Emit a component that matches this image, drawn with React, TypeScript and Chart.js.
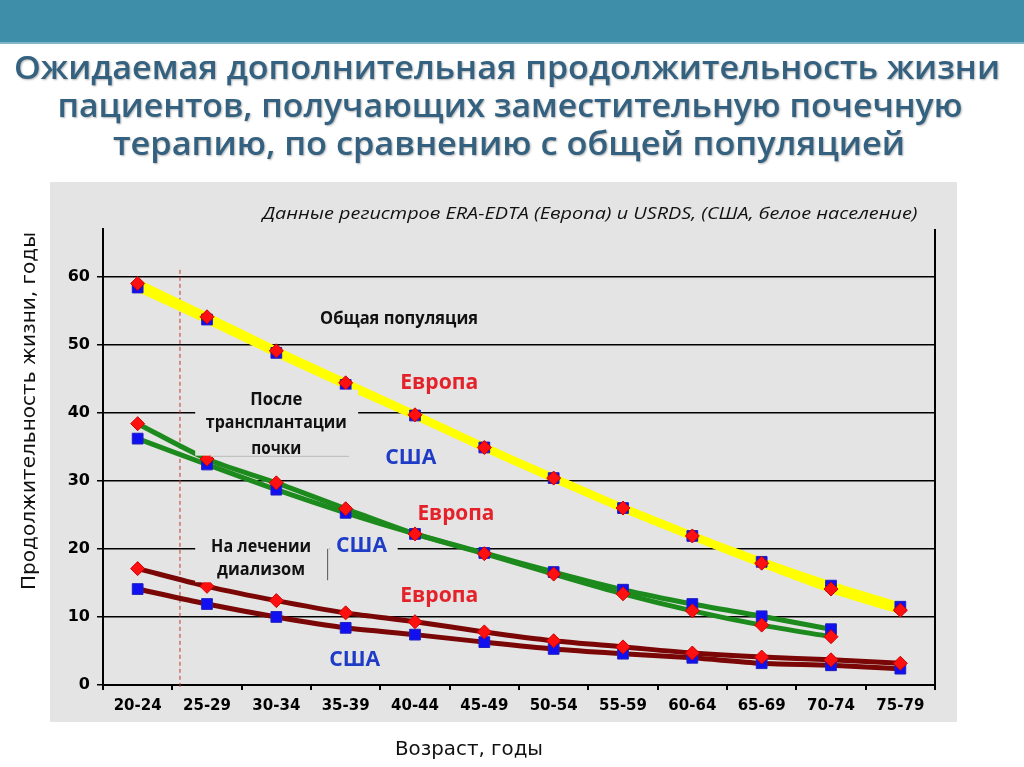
import React, { useEffect, useRef } from 'react';
import { Chart, registerables } from 'chart.js';

Chart.register(...registerables);

const ageGroups = ['20-24', '25-29', '30-34', '35-39', '40-44', '45-49', '50-54', '55-59', '60-64', '65-69', '70-74', '75-79'];
const generalEurope = [59.0, 54.1, 49.1, 44.4, 39.7, 34.9, 30.4, 26.0, 21.9, 17.9, 14.1, 11.0];
const generalUSA = [58.4, 53.7, 48.8, 44.1, 39.6, 34.9, 30.4, 26.0, 21.9, 18.1, 14.6, 11.5];
const transplantEurope = [38.4, 33.2, 29.7, 25.9, 22.2, 19.3, 16.3, 13.4, 10.9, 8.8, 7.1, null];
const transplantUSA = [36.2, 32.4, 28.7, 25.3, 22.2, 19.4, 16.6, 14.0, 11.9, 10.1, 8.2, null];
const dialysisEurope = [17.1, 14.5, 12.4, 10.6, 9.3, 7.8, 6.5, 5.6, 4.7, 4.1, 3.7, 3.2];
const dialysisUSA = [14.1, 11.9, 10.0, 8.4, 7.4, 6.3, 5.3, 4.6, 4.0, 3.2, 2.9, 2.4];
const yTickValues = [0, 10, 20, 30, 40, 50, 60];

const titleLines = [
  'Ожидаемая дополнительная продолжительность жизни',
  'пациентов, получающих заместительную почечную',
  'терапию, по сравнению с общей популяцией',
];
const subtitle = 'Данные регистров ERA-EDTA (Европа) и USRDS, (США, белое население)';
const yAxisTitle = 'Продолжительность жизни, годы';
const xAxisTitle = 'Возраст, годы';

const RED = '#e3222a';
const BLUE = '#1f3cc6';
const PANEL = '#e4e4e4';
const SANS = '"Open Sans", "Noto Sans", sans-serif';

// annotations placed in data coordinates (category index, value)
const annotations = [
  { text: 'Общая популяция', x: 3.77, y: 53.7, w: 158, kind: 'black' },
  { text: 'Европа', x: 4.35, y: 44.3, w: 78, kind: 'red' },
  { text: 'После', x: 2.0, y: 41.9, w: 52, kind: 'black' },
  { text: 'трансплантации', x: 2.0, y: 38.4, w: 141, kind: 'black' },
  { text: 'почки', x: 2.0, y: 34.7, w: 50, kind: 'black' },
  { text: 'США', x: 3.94, y: 33.4, w: 51, kind: 'blue' },
  { text: 'Европа', x: 4.59, y: 25.1, w: 77, kind: 'red' },
  { text: 'На лечении', x: 1.78, y: 20.3, w: 100, kind: 'black' },
  { text: 'диализом', x: 1.78, y: 16.9, w: 88, kind: 'black' },
  { text: 'США', x: 3.23, y: 20.4, w: 51, kind: 'blue' },
  { text: 'Европа', x: 4.35, y: 13.1, w: 78, kind: 'red' },
  { text: 'США', x: 3.13, y: 3.7, w: 51, kind: 'blue' },
];
const coverBoxes = [
  { x0: 0.83, x1: 3.18, y0: 43.4, y1: 33.7 },
  { x0: 0.83, x1: 2.77, y0: 22.5, y1: 15.1 },
  { x0: 2.77, x1: 3.75, y0: 21.6, y1: 19.0 },
];

function fitText(ctx: CanvasRenderingContext2D, text: string, cx: number, cy: number, width: number, font: string, color: string, rotate = 0) {
  ctx.save();
  ctx.font = font;
  ctx.fillStyle = color;
  ctx.textAlign = 'center';
  ctx.textBaseline = 'middle';
  const w = ctx.measureText(text).width;
  ctx.translate(cx, cy);
  if (rotate) ctx.rotate(rotate);
  ctx.scale(width / w, 1);
  ctx.fillText(text, 0, 0);
  ctx.restore();
}

const slidePlugin = {
  id: 'slide',
  beforeDraw(chart: any) {
    const ctx: CanvasRenderingContext2D = chart.ctx;
    ctx.save();
    ctx.fillStyle = '#ffffff';
    ctx.fillRect(0, 0, chart.width, chart.height);
    ctx.fillStyle = '#3f8ea9';
    ctx.fillRect(0, 0, chart.width, 42);
    ctx.fillStyle = '#7fb6c8';
    ctx.fillRect(0, 42, chart.width, 2);
    ctx.fillStyle = PANEL;
    ctx.fillRect(50, 182, 907, 540);
    ctx.restore();

    ctx.save();
    ctx.shadowColor = 'rgba(0,0,0,0.3)';
    ctx.shadowOffsetX = 1;
    ctx.shadowOffsetY = 1;
    ctx.shadowBlur = 2;
    const centers = [[507, 70, 986], [510, 108, 905], [509, 146, 792]];
    titleLines.forEach((t, i) => {
      fitText(ctx, t, centers[i][0], centers[i][1], centers[i][2], `600 33px ${SANS}`, '#33617f');
    });
    ctx.restore();

    fitText(ctx, subtitle, 590, 214, 655, `italic 17px ${SANS}`, '#111111');
    fitText(ctx, yAxisTitle, 30, 411, 358, '19px "DejaVu Sans"', '#111111', -Math.PI / 2);
    fitText(ctx, xAxisTitle, 469, 750, 148, '19px "DejaVu Sans"', '#111111');
  },
  beforeDatasetsDraw(chart: any) {
    const ctx: CanvasRenderingContext2D = chart.ctx;
    const { chartArea } = chart;
    const xs = chart.scales.x;
    const ys = chart.scales.y;
    ctx.save();
    ctx.strokeStyle = '#000';
    ctx.lineWidth = 2;
    ctx.beginPath();
    ctx.moveTo(chartArea.right, chartArea.top);
    ctx.lineTo(chartArea.right, chartArea.bottom);
    ctx.stroke();
    const dx = xs.getPixelForValue(0.61);
    ctx.strokeStyle = '#c0392b';
    ctx.lineWidth = 1;
    ctx.setLineDash([4, 3]);
    ctx.beginPath();
    ctx.moveTo(dx, ys.getPixelForValue(61));
    ctx.lineTo(dx, chartArea.bottom + 5);
    ctx.stroke();
    ctx.restore();
  },
  afterDatasetsDraw(chart: any) {
    const ctx: CanvasRenderingContext2D = chart.ctx;
    const xs = chart.scales.x;
    const ys = chart.scales.y;
    ctx.save();
    ctx.fillStyle = PANEL;
    coverBoxes.forEach((b) => {
      const x0 = xs.getPixelForValue(b.x0);
      const x1 = xs.getPixelForValue(b.x1);
      const y0 = ys.getPixelForValue(b.y0);
      const y1 = ys.getPixelForValue(b.y1);
      ctx.fillRect(x0, y0, x1 - x0, y1 - y0);
    });
    // thin edge line next to the dialysis label
    ctx.strokeStyle = '#555';
    ctx.lineWidth = 1;
    const ex = xs.getPixelForValue(2.74);
    ctx.beginPath();
    ctx.moveTo(ex, ys.getPixelForValue(20));
    ctx.lineTo(ex, ys.getPixelForValue(15.4));
    ctx.stroke();
    ctx.strokeStyle = '#bbb';
    ctx.beginPath();
    ctx.moveTo(xs.getPixelForValue(1.05), ys.getPixelForValue(33.6));
    ctx.lineTo(xs.getPixelForValue(3.05), ys.getPixelForValue(33.6));
    ctx.stroke();
    ctx.restore();
    annotations.forEach((a) => {
      const cx = xs.getPixelForValue(a.x);
      const cy = ys.getPixelForValue(a.y);
      if (a.kind === 'black') fitText(ctx, a.text, cx, cy, a.w, `bold 17px ${SANS}`, '#111111');
      else fitText(ctx, a.text, cx, cy, a.w, `bold 21px ${SANS}`, a.kind === 'red' ? RED : BLUE);
    });
  },
};

function lineSet(data: (number | null)[], color: string, width: number) {
  return {
    data,
    borderColor: color,
    backgroundColor: color,
    borderWidth: width,
    pointRadius: 0,
    tension: 0.3,
    fill: false,
    order: 3,
  };
}
function pointSet(data: (number | null)[], europe: boolean) {
  return {
    data,
    showLine: false,
    pointStyle: europe ? 'rectRot' : 'rect',
    pointRadius: europe ? 7 : 7.6,
    pointBackgroundColor: europe ? '#ff1010' : '#1010f0',
    pointBorderColor: europe ? '#d00000' : '#2020c0',
    pointBorderWidth: 1,
    order: europe ? 1 : 2,
  };
}

export default function App() {
  const ref = useRef<HTMLCanvasElement | null>(null);
  useEffect(() => {
    if (!ref.current) return;
    const chart = new Chart(ref.current, {
      type: 'line',
      data: {
        labels: ageGroups,
        datasets: [
          lineSet(generalEurope, '#ffff00', 8),
          lineSet(generalUSA, '#ffff00', 8),
          lineSet(transplantEurope, '#1c8a1c', 5),
          lineSet(transplantUSA, '#1c8a1c', 5),
          lineSet(dialysisEurope, '#7a0606', 5),
          lineSet(dialysisUSA, '#7a0606', 5),
          pointSet(generalUSA, false),
          pointSet(transplantUSA, false),
          pointSet(dialysisUSA, false),
          pointSet(generalEurope, true),
          pointSet(transplantEurope, true),
          pointSet(dialysisEurope, true),
        ] as any,
      },
      options: {
        responsive: false,
        animation: false,
        events: [],
        layout: { padding: { left: 43, right: 89, top: 229, bottom: 45 } },
        plugins: { legend: { display: false }, tooltip: { enabled: false } },
        scales: {
          x: {
            type: 'category',
            offset: true,
            afterFit: (s: any) => { s.height = 37; },
            grid: { offset: true, drawOnChartArea: false, drawTicks: true, tickLength: 5, color: '#000', lineWidth: 2 },
            border: { color: '#000', width: 2 },
            ticks: { color: '#000', font: { family: '"DejaVu Sans"', weight: 'bold', size: 15 }, padding: 7, maxRotation: 0, autoSkip: false },
          },
          y: {
            type: 'linear',
            min: 0,
            max: 67,
            afterFit: (s: any) => { s.width = 60; },
            afterBuildTicks: (s: any) => { s.ticks = yTickValues.map((v) => ({ value: v })); },
            grid: { color: '#000', lineWidth: 1.5, tickLength: 6 },
            border: { color: '#000', width: 2 },
            ticks: { color: '#000', font: { family: '"DejaVu Sans"', weight: 'bold', size: 16 }, padding: 7 },
          },
        },
      },
      plugins: [slidePlugin],
    });
    return () => chart.destroy();
  }, []);
  return (
    <div style={{ position: 'fixed', left: 0, top: 0, width: 1024, height: 767, background: '#fff' }}>
      <canvas ref={ref} width={1024} height={767} style={{ display: 'block' }} />
    </div>
  );
}
